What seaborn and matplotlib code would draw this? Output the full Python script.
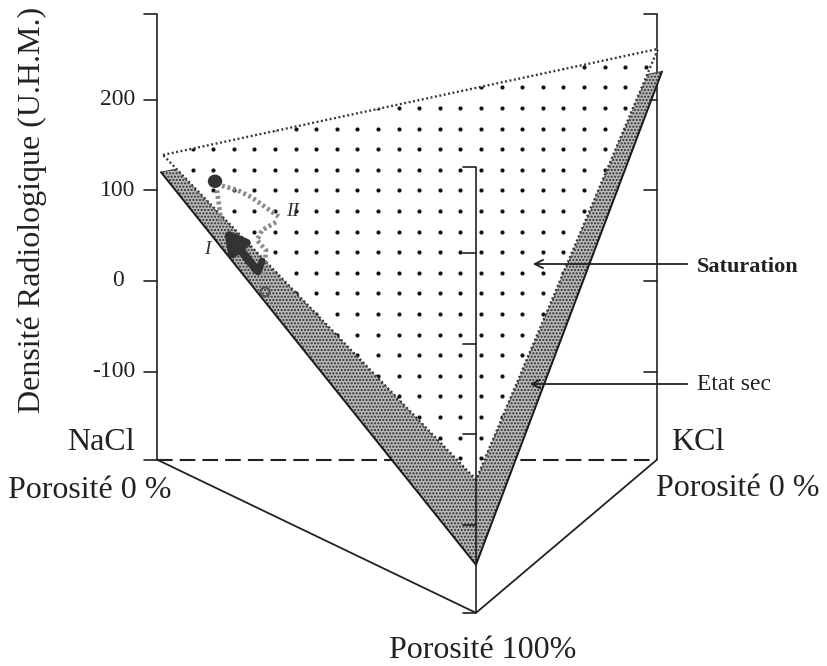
import numpy as np
import pandas as pd
import matplotlib
matplotlib.use("Agg")
import matplotlib.pyplot as plt
from matplotlib.patches import Polygon, Ellipse
import seaborn as sns

sns.set_theme(style="white")
plt.rcParams["font.family"] = ["Liberation Serif", "DejaVu Serif"]
plt.rcParams["hatch.linewidth"] = 1.0

# ---------------- data ----------------
corners = ["NaCl", "KCl", "Porosité 100%"]
corner_x = [157, 657, 476]          # horizontal position of each vertical axis
corner_shift = [0, 0, -169]         # perspective drop of the front axis (HU)
axis_floor = -197
axis_top = 295
tick_values = [200, 100, 0, -100]
tick_labels = ["200", "100", "0", "-100"]

sat_hu = [139, 256, -50]            # saturation plane at each corner
sat_x = [163, 658, 476]
dry_hu = [120, 231, -144]           # dry-state plane at each corner
dry_x = [161, 662, 476]

blob_x, blob_y = [215], [110]
pathA_x = [217, 219, 221]
pathA_y = [100, 84, 65]
pathII_x = [222, 238, 252, 266, 280]
pathII_y = [105, 100, 92, 81, 70]
pathII_back_x = [276, 262, 257, 266, 265, 262]
pathII_back_y = [65, 56, 45, 34, 21, 7]
pathI_x = [258, 240, 222]
pathI_y = [10, 35, 60]
hookI_x = [258, 262]
hookI_y = [10, 22]
circle_xy = (265, -12)

# --------------- helpers ---------------
K = 0.9067   # px per HU


def plane(xs, hus):
    return [(x, h + s) for x, h, s in zip(xs, hus, corner_shift)]


fig = plt.figure(figsize=(8.28, 6.66), dpi=100)
ax = fig.add_axes([0, 0, 1, 1])
ax.set_xlim(0, 828)
ax.set_ylim((281 - 666) / K, 281 / K)
ax.axis("off")

lw_ax = 1.2
tick_len = 13
ink = "#222"

# floor
fl = [(x, axis_floor + s) for x, s in zip(corner_x, corner_shift)]
ax.plot([fl[0][0], fl[1][0]], [fl[0][1], fl[1][1]], color=ink, lw=1.5,
        linestyle=(0, (7.5, 3.4)), zorder=1)
floor_df = pd.DataFrame({"x": [fl[0][0], fl[2][0], fl[1][0]],
                         "y": [fl[0][1], fl[2][1], fl[1][1]]})
sns.lineplot(data=floor_df, x="x", y="y", sort=False, estimator=None,
             color=ink, lw=1.3, ax=ax, zorder=1)

# vertical axes with ticks
for i, (x, s) in enumerate(zip(corner_x, corner_shift)):
    z = 6 if i == 2 else 1
    ax.plot([x, x], [axis_floor + s, axis_top + s], color=ink, lw=lw_ax,
            zorder=z, solid_capstyle="butt")
    for tv in tick_values + [axis_top]:
        ax.plot([x - tick_len, x], [tv + s, tv + s], color=ink, lw=lw_ax,
                zorder=z)
    if i != 1:
        ax.plot([x - tick_len, x], [axis_floor + s, axis_floor + s],
                color=ink, lw=lw_ax, zorder=z)

# tick labels on the left axis
for tv, tl in zip(tick_values, tick_labels):
    xpos = 118 if tv >= 0 else 114
    ax.text(xpos, tv, tl, ha="center", va="center", fontsize=17, color=ink)

# dry-state plane (grey stipple)
dry = plane(dry_x, dry_hu)
ax.add_patch(Polygon(dry, closed=True, facecolor="#b8b8b8",
                     edgecolor="#2a2a2a", linewidth=0, hatch=".....",
                     zorder=2))
ax.plot([dry[0][0], dry[2][0], dry[1][0]], [dry[0][1], dry[2][1], dry[1][1]],
        color="#1a1a1a", lw=1.4, zorder=3)
ax.plot([dry[0][0], dry[1][0]], [dry[0][1], dry[1][1]], color="#444", lw=0.8,
        zorder=2)

# saturation plane (white with dot grid)
sat = plane(sat_x, sat_hu)
sat_patch = Polygon(sat, closed=True, facecolor="white", edgecolor="none",
                    zorder=3)
ax.add_patch(sat_patch)
gx, gy = np.meshgrid(np.arange(192.7 - 20.6 * 2, 700, 20.6),
                     np.arange(108 - 20.6 * 4, 480, 20.6))
dots = pd.DataFrame({"x": gx.ravel(), "y": (281 - gy.ravel()) / K})
sns.scatterplot(data=dots, x="x", y="y", s=9, color="#111", linewidth=0,
                marker="o", ax=ax, zorder=4, legend=False)
ax.collections[-1].set_clip_path(sat_patch)
sx = [p[0] for p in sat] + [sat[0][0]]
sy = [p[1] for p in sat] + [sat[0][1]]
ax.plot(sx, sy, color="#333", lw=1.7, linestyle=(0, (0.8, 1.1)), zorder=5)

# trajectories
ax.add_patch(Ellipse((blob_x[0], blob_y[0]), 13, 12 / K, color="#333",
                     zorder=7))
for px, py in [(pathA_x, pathA_y), (pathII_x, pathII_y),
               (pathII_back_x, pathII_back_y)]:
    ax.plot(px, py, color="#8a8a8a", lw=3.4, linestyle=(0, (0.6, 0.6)),
            zorder=7)
ax.annotate("", xy=(pathI_x[-1], pathI_y[-1]), xytext=(pathI_x[0], pathI_y[0]),
            arrowprops=dict(arrowstyle="-|>,head_length=1.0,head_width=0.55",
                            color="#333", lw=6), zorder=8)
ax.plot(hookI_x, hookI_y, color="#333", lw=5, zorder=8,
        solid_capstyle="round")
ax.add_patch(Ellipse(circle_xy, 9, 9 / K, facecolor="none", edgecolor="#555",
                     lw=1.6, zorder=8))
ax.text(207, (281 - 250) / K, "I", fontsize=14, style="italic", ha="center",
        va="center", color="#333", zorder=9)
ax.text(293, (281 - 212) / K, "II", fontsize=14, style="italic", ha="center",
        va="center", color="#333", zorder=9)

# leader annotations
ax.annotate("", xy=(530, (281 - 264) / K), xytext=(690, (281 - 264) / K),
            arrowprops=dict(arrowstyle="->,head_length=0.5,head_width=0.25",
                            color=ink, lw=1.3), zorder=9)
ax.annotate("", xy=(527, (281 - 384) / K), xytext=(690, (281 - 384) / K),
            arrowprops=dict(arrowstyle="->,head_length=0.5,head_width=0.25",
                            color=ink, lw=1.3), zorder=9)
ax.text(697, (281 - 267) / K, "Saturation", fontsize=16, fontweight="bold",
        ha="left", va="center", color=ink)
ax.text(697, (281 - 384) / K, "Etat sec", fontsize=17,
        ha="left", va="center", color=ink)

# corner labels
ax.text(135, (281 - 443) / K, corners[0], fontsize=23, ha="right",
        va="center", color=ink)
ax.text(8, (281 - 490) / K, "Porosité 0 %", fontsize=23, ha="left",
        va="center", color=ink)
ax.text(671, (281 - 443) / K, corners[1], fontsize=23, ha="left",
        va="center", color=ink)
ax.text(820, (281 - 488) / K, "Porosité 0 %", fontsize=23, ha="right",
        va="center", color=ink)
ax.text(483, (281 - 650) / K, corners[2], fontsize=23, ha="center",
        va="center", color=ink)

# y label
ax.text(32, (281 - 210) / K, "Densité Radiologique (U.H.M.)", fontsize=23,
        rotation=90, ha="center", va="center", color=ink)

fig.savefig("out.png", dpi=100)
